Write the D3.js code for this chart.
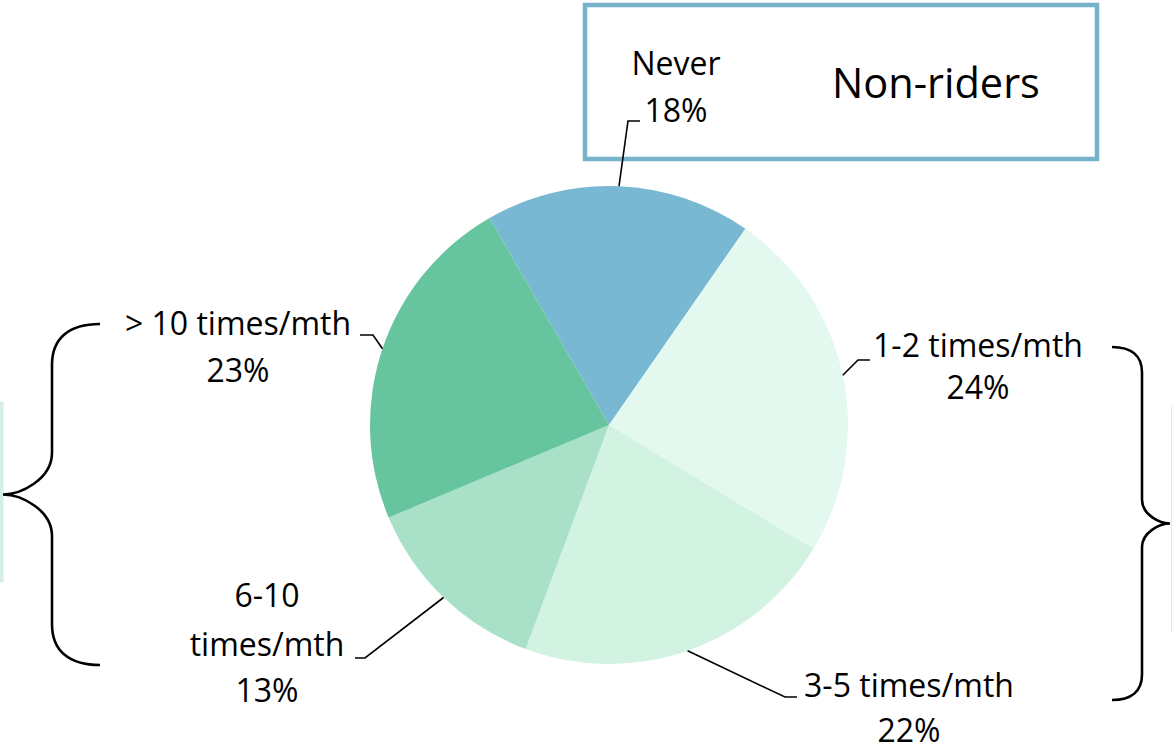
<!DOCTYPE html>
<html>
<head>
<meta charset="utf-8">
<script src="https://cdn.jsdelivr.net/npm/d3@7"></script>
<style>
	body { margin: 0; background: #fff; }
	svg { display: block; }
	text { font-family: "Open Sans", sans-serif; fill: #000; }
</style>
</head>
<body>
<svg id="chart" width="1172" height="750"></svg>
<script>
// data
const categories = ["Never", "1-2 times/mth", "3-5 times/mth", "6-10 times/mth", "> 10 times/mth"];
const shares = [18, 24, 22, 13, 23];
const nameLines = [["Never"], ["1-2 times/mth"], ["3-5 times/mth"], ["6-10", "times/mth"], ["> 10 times/mth"]];
const sliceColors = ["#78b8d3", "#e3f9f0", "#d2f2e2", "#a8e1c8", "#66c59e"];

// layout
const W = 1172, H = 750;
const cx = 609, cy = 425, R = 239;
const labelFont = 32;
// elbow / end of leader line, label centre x and baselines
const labelLayout = [
	{elbow: [628, 121], end: [640, 121], x: 676, y: [75, 122]},
	{elbow: [858, 360], end: [870, 360], x: 978, y: [357, 399]},
	{elbow: [785, 697], end: [797, 697], x: 909, y: [697, 742]},
	{elbow: [365, 658], end: [355, 658], x: 267, y: [607, 656, 702]},
	{elbow: [373, 335], end: [360, 335], x: 238, y: [335, 382]}
];

const svg = d3.select('#chart');

const color = d3.scaleOrdinal()
	.domain(categories)
	.range(sliceColors);

const pie = d3.pie()
	.sort(null)
	.value(d => d.value)
	.startAngle(-30 * Math.PI / 180)
	.endAngle(330 * Math.PI / 180);

const rows = categories.map((c, i) => ({cat: c, value: shares[i], lines: nameLines[i], lay: labelLayout[i]}));
const arcs = pie(rows);

const arc = d3.arc().innerRadius(0).outerRadius(R);
const edge = d3.arc().innerRadius(R).outerRadius(R); // centroid = point on rim at mid angle

// side decorations (cut-off boxes at the page edges)
svg.append('rect')
	.attr('x', 0).attr('y', 402)
	.attr('width', 3.5).attr('height', 180)
	.attr('fill', '#d4eee3');
svg.append('line')
	.attr('x1', 1171.5).attr('x2', 1171.5)
	.attr('y1', 405).attr('y2', 632)
	.attr('stroke', '#e8e8e8');

// Non-riders box
svg.append('rect')
	.attr('x', 585).attr('y', 5)
	.attr('width', 512).attr('height', 154)
	.attr('fill', 'none')
	.attr('stroke', '#76b2ca')
	.attr('stroke-width', 4.5);
svg.append('text')
	.attr('x', 832).attr('y', 98)
	.style('font-size', '41.5px')
	.text('Non-riders');

// pie
const gPie = svg.append('g')
	.attr('transform', 'translate(' + cx + ',' + cy + ')');

gPie.selectAll('.slice')
	.data(arcs).enter()
	.append('path')
	.attr('class', 'slice')
	.attr('d', arc)
	.attr('fill', d => color(d.data.cat));

// leader lines
svg.selectAll('.leader')
	.data(arcs).enter()
	.append('polyline')
	.attr('class', 'leader')
	.attr('points', d => {
		const p = edge.centroid(d);
		const l = d.data.lay;
		return [[p[0] + cx, p[1] + cy], l.elbow, l.end].map(q => q.join(',')).join(' ');
	})
	.attr('fill', 'none')
	.attr('stroke', '#000')
	.attr('stroke-width', 1.6);

// labels
const gLbl = svg.selectAll('.lbl')
	.data(arcs).enter()
	.append('text')
	.attr('class', 'lbl')
	.attr('text-anchor', 'middle')
	.style('font-size', labelFont + 'px');

gLbl.each(function(d) {
	const t = d3.select(this);
	const lines = d.data.lines.concat([d.data.value + '%']);
	lines.forEach((s, i) => {
		t.append('tspan')
			.attr('x', d.data.lay.x)
			.attr('y', d.data.lay.y[i])
			.text(s);
	});
});

// curly braces
function brace(xArm, xSpine, xTip, yTop, yBot) {
	const yMid = (yTop + yBot) / 2;
	const s = Math.sign(xArm - xSpine); // arm side
	const ca = Math.abs(xArm - xSpine), ct = Math.abs(xTip - xSpine);
	const p = d3.path();
	p.moveTo(xArm, yTop);
	p.bezierCurveTo(xSpine + s * ca * 0.35, yTop, xSpine, yTop + ca * 0.3, xSpine, yTop + ca * 0.85);
	p.lineTo(xSpine, yMid - ct * 0.85);
	p.bezierCurveTo(xSpine, yMid - ct * 0.3, xTip + s * ct * 0.35, yMid, xTip, yMid);
	p.bezierCurveTo(xTip + s * ct * 0.35, yMid, xSpine, yMid + ct * 0.3, xSpine, yMid + ct * 0.85);
	p.lineTo(xSpine, yBot - ca * 0.85);
	p.bezierCurveTo(xSpine, yBot - ca * 0.3, xSpine + s * ca * 0.35, yBot, xArm, yBot);
	return p.toString();
}

svg.append('path')
	.attr('d', brace(100, 52, 3, 324, 665))
	.attr('fill', 'none')
	.attr('stroke', '#000')
	.attr('stroke-width', 2.6);

svg.append('path')
	.attr('d', brace(1112, 1142, 1170, 347, 700))
	.attr('fill', 'none')
	.attr('stroke', '#000')
	.attr('stroke-width', 2.6);
</script>
</body>
</html>
